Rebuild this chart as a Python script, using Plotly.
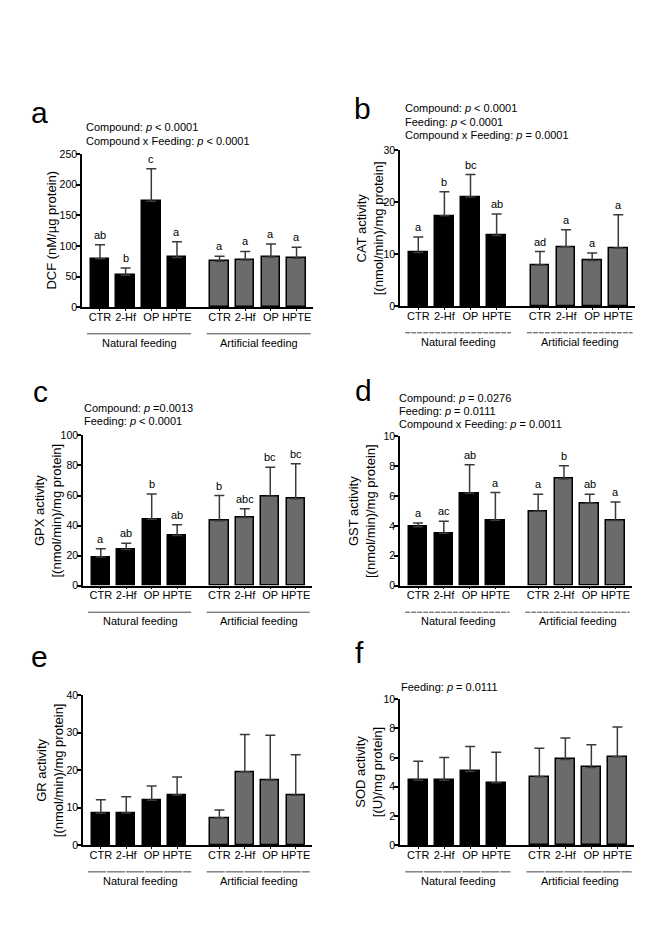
import plotly.graph_objects as go

W, H = 672, 945

categories = ["CTR", "2-Hf", "OP", "HPTE"]
groups = ["Natural feeding", "Artificial feeding"]
positions = [0, 1, 2, 3, 4.66, 5.66, 6.66, 7.66]

dcf_mean = [79, 52, 173, 81, 75, 77, 82, 80]
dcf_err = [23, 12, 53, 26, 8, 14, 21, 18]
dcf_sig = ["ab", "b", "c", "a", "a", "a", "a", "a"]

cat_mean = [10.3, 17.4, 21.0, 13.6, 7.9, 11.4, 8.8, 11.2]
cat_err = [3.0, 4.6, 4.3, 4.1, 2.6, 3.3, 1.4, 6.4]
cat_sig = ["a", "b", "bc", "ab", "ad", "a", "a", "a"]

gpx_mean = [19.0, 24.0, 44.2, 33.3, 43.1, 45.3, 59.5, 57.8]
gpx_err = [5.5, 4.2, 16.8, 7.2, 16.9, 5.9, 19.3, 23.4]
gpx_sig = ["a", "ab", "b", "ab", "b", "abc", "bc", "bc"]

gst_mean = [3.94, 3.5, 6.19, 4.38, 4.98, 7.15, 5.53, 4.36]
gst_err = [0.26, 0.81, 1.91, 1.86, 1.15, 0.88, 0.6, 1.24]
gst_sig = ["a", "ac", "ab", "a", "a", "b", "ab", "a"]

gr_mean = [8.5, 8.6, 12.0, 13.4, 7.3, 19.6, 17.4, 13.3]
gr_err = [3.6, 4.3, 3.8, 4.8, 2.1, 9.9, 11.9, 10.8]

sod_mean = [4.44, 4.44, 5.05, 4.28, 4.68, 5.86, 5.32, 6.06]
sod_err = [1.30, 1.57, 1.71, 2.09, 1.96, 1.48, 1.55, 2.03]

FONT = "Liberation Sans, Arial, sans-serif"
BAR_COLORS = ["#000000"] * 4 + ["#6b6b6b"] * 4


def px(xp):
    return xp / W


def py(yp):
    return 1 - yp / H


panels = [
    dict(letter="a", mean=dcf_mean, err=dcf_err, sig=dcf_sig, ymax=250, dtick=50,
         box=(82, 313, 150, 305), title="DCF (nM/\u00b5g protein)", title_x=52,
         stats=["Compound: <i>p</i> < 0.0001", "Compound x Feeding: <i>p</i> < 0.0001"],
         stats_x=84, stats_y=[123, 137], letter_xy=(29, 108), line_dash="solid"),
    dict(letter="b", mean=cat_mean, err=cat_err, sig=cat_sig, ymax=30, dtick=10,
         box=(400, 635, 146, 304), title="CAT activity<br>[(nmol/min)/mg protein]", title_x=370,
         stats=["Compound: <i>p</i> < 0.0001", "Feeding: <i>p</i> < 0.0001",
                "Compound x Feeding: <i>p</i> = 0.0001"],
         stats_x=403, stats_y=[103, 117, 131], letter_xy=(352, 104), line_dash="5px,1px"),
    dict(letter="c", mean=gpx_mean, err=gpx_err, sig=gpx_sig, ymax=100, dtick=20,
         box=(83, 312, 435, 587), title="GPX activity<br>[(nmol/min)/mg protein]", title_x=48,
         stats=["Compound: <i>p</i> =0.0013", "Feeding: <i>p</i> < 0.0001"],
         stats_x=82, stats_y=[407, 420], letter_xy=(31, 390), line_dash="solid"),
    dict(letter="d", mean=gst_mean, err=gst_err, sig=gst_sig, ymax=10, dtick=2,
         box=(400, 632, 436, 587), title="GST activity<br>[(nmol/min)/mg protein]", title_x=362,
         stats=["Compound: <i>p</i> = 0.0276", "Feeding: <i>p</i> = 0.0111",
                "Compound x Feeding: <i>p</i> = 0.0011"],
         stats_x=397, stats_y=[397, 410, 423], letter_xy=(353, 389), line_dash="5px,1px"),
    dict(letter="e", mean=gr_mean, err=gr_err, sig=None, ymax=40, dtick=10,
         box=(83, 312, 698, 850), title="GR activity<br>[(nmol/min)/mg protein]", title_x=50,
         stats=[], stats_x=0, stats_y=[], letter_xy=(29, 659), line_dash="18px,1px"),
    dict(letter="f", mean=sod_mean, err=sod_err, sig=None, ymax=10, dtick=2,
         box=(400, 634, 702, 850), title="SOD activity<br>[(U)/mg protein]", title_x=369,
         stats=["Feeding: <i>p</i> = 0.0111"],
         stats_x=399, stats_y=[690], letter_xy=(353, 655), line_dash="18px,1px"),
]

fig = go.Figure()
annotations = []
shapes = []
layout = {}

for i, p in enumerate(panels):
    n = "" if i == 0 else str(i + 1)
    xa, ya = "x" + n, "y" + n
    x0, x1, y0, y1 = p["box"]
    fig.add_trace(go.Bar(
        x=positions, y=p["mean"], xaxis=xa, yaxis=ya, width=0.72,
        marker=dict(color=BAR_COLORS, line=dict(color="#000000", width=1.5)),
        error_y=dict(type="data", array=p["err"], arrayminus=[0] * 8, symmetric=False,
                     color="#3a3a3a", thickness=1.5, width=5),
        showlegend=False,
    ))
    layout["xaxis" + n] = dict(
        domain=[px(x0), px(x1)], anchor=ya, range=[-0.7, 8.3],
        tickvals=positions, ticktext=categories * 2, ticks="outside", ticklen=2,
        tickwidth=1.2, tickcolor="#000", showline=True, linecolor="#000", linewidth=1.5,
        showgrid=False, zeroline=False, fixedrange=True, ticklabelstandoff=-3,
        tickfont=dict(family=FONT, size=11, color="#000"),
    )
    layout["yaxis" + n] = dict(
        domain=[py(y1), py(y0)], anchor=xa, range=[0, p["ymax"]], dtick=p["dtick"],
        ticks="outside", ticklen=4, tickwidth=1.5, tickcolor="#000", ticklabelstandoff=-3,
        showline=True, linecolor="#000", linewidth=1.5, showgrid=False, zeroline=False,
        tickfont=dict(family=FONT, size=10.5, color="#000"),
    )
    # significance letters
    if p["sig"]:
        for xv, m, e, s in zip(positions, p["mean"], p["err"], p["sig"]):
            annotations.append(dict(
                x=xv, y=m + e, xref=xa, yref=ya, text=s, showarrow=False,
                yanchor="bottom", yshift=2, font=dict(family=FONT, size=11, color="#000")))
    # y-axis title
    annotations.append(dict(
        x=px(p["title_x"]), y=py((y0 + y1) / 2), xref="paper", yref="paper",
        text=p["title"], textangle=-90, showarrow=False, xanchor="center", yanchor="middle",
        font=dict(family=FONT, size=13, color="#000")))
    # stats text
    for t, sy in zip(p["stats"], p["stats_y"]):
        annotations.append(dict(
            x=px(p["stats_x"]), y=py(sy), xref="paper", yref="paper", text=t,
            showarrow=False, xanchor="left", yanchor="middle",
            font=dict(family=FONT, size=11, color="#000")))
    # panel letter
    lx, ly = p["letter_xy"]
    annotations.append(dict(
        x=px(lx), y=py(ly), xref="paper", yref="paper", text=p["letter"],
        showarrow=False, xanchor="left", yanchor="middle",
        font=dict(family=FONT, size=30, color="#000")))
    # feeding group lines and labels
    line_y = y1 + 27
    label_y = y1 + 36
    for g, gname in enumerate(groups):
        a = positions[4 * g]
        b = positions[4 * g + 3]
        shapes.append(dict(
            type="line", xref=xa, yref="paper", x0=a - 0.5, x1=b + 0.55,
            y0=py(line_y), y1=py(line_y),
            line=dict(color="#444", width=1, dash=p["line_dash"])))
        annotations.append(dict(
            x=(a + b) / 2 + 0.05, y=py(label_y), xref=xa, yref="paper", text=gname,
            showarrow=False, xanchor="center", yanchor="middle",
            font=dict(family=FONT, size=11, color="#000")))

fig.update_layout(
    width=W, height=H, autosize=False,
    margin=dict(l=0, r=0, t=0, b=0),
    paper_bgcolor="white", plot_bgcolor="white",
    annotations=annotations, shapes=shapes, bargap=0,
    **layout,
)

fig.write_html("out.html")
